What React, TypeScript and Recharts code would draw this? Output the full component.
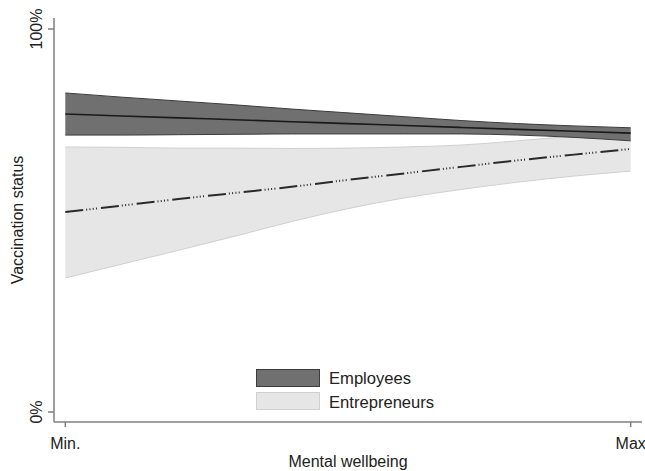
import React from "react";
import { ComposedChart, Area, Line, XAxis, YAxis, Legend } from "recharts";

// x position along Mental wellbeing (0 = Min., 1 = Max)
const tValues = [0, 0.1, 0.2, 0.3, 0.4, 0.5, 0.6, 0.7, 0.8, 0.9, 1];

// Employees: upper CI, predicted, lower CI
const empHigh = [0.833, 0.822, 0.812, 0.802, 0.791, 0.781, 0.771, 0.761, 0.753, 0.747, 0.742];
const empMean = [0.778, 0.773, 0.768, 0.763, 0.758, 0.753, 0.748, 0.743, 0.738, 0.733, 0.728];
const empLow = [0.723, 0.723, 0.724, 0.725, 0.726, 0.726, 0.726, 0.726, 0.723, 0.717, 0.708];

// Entrepreneurs: upper CI, predicted, lower CI
const entHigh = [0.692, 0.691, 0.689, 0.689, 0.688, 0.689, 0.692, 0.697, 0.708, 0.721, 0.736];
const entMean = [0.522, 0.539, 0.556, 0.572, 0.588, 0.606, 0.623, 0.640, 0.657, 0.672, 0.687];
const entLow = [0.350, 0.386, 0.422, 0.459, 0.497, 0.531, 0.559, 0.581, 0.600, 0.616, 0.629];

const xTicks = [0, 1];
const xTickLabels = ["Min.", "Max"];
const yTicks = [0, 1];
const yTickLabels = ["0%", "100%"];

const seriesNames = ["Employees", "Entrepreneurs"];
const xLabel = "Mental wellbeing";
const yLabel = "Vaccination status";

const data = tValues.map((t, i) => ({
  t,
  emp: [empLow[i], empHigh[i]],
  empMean: empMean[i],
  ent: [entLow[i], entHigh[i]],
  entMean: entMean[i],
}));

const FONT = '"Liberation Sans", Arial, sans-serif';
const AXIS = "#7f7f7f";
const TEXT = "#222";
const DARK_FILL = "#707070";
const DARK_EDGE = "#3c3c3c";
const LIGHT_FILL = "#e6e6e6";
const LIGHT_EDGE = "#d0d0d0";

const XTick = (props: any) => {
  const { x, y, payload } = props;
  const idx = xTicks.indexOf(payload.value);
  return (
    <text x={x} y={y + 22} textAnchor="middle" fontFamily={FONT} fontSize={16} fill={TEXT}>
      {xTickLabels[idx]}
    </text>
  );
};

const YTick = (props: any) => {
  const { x, y, payload } = props;
  const idx = yTicks.indexOf(payload.value);
  const bx = x - 6;
  return (
    <text
      x={bx}
      y={y}
      transform={`rotate(-90, ${bx}, ${y})`}
      textAnchor="middle"
      fontFamily={FONT}
      fontSize={16}
      fill={TEXT}
    >
      {yTickLabels[idx]}
    </text>
  );
};

const LegendContent = () => (
  <svg width={200} height={42} style={{ display: "block" }}>
    <rect x={0.5} y={0.5} width={63} height={17} fill={DARK_FILL} stroke={DARK_EDGE} strokeWidth={1} />
    <text x={73} y={14.5} fontFamily={FONT} fontSize={16.6} fill={TEXT}>
      {seriesNames[0]}
    </text>
    <rect x={0.5} y={23.5} width={63} height={17} fill={LIGHT_FILL} stroke={LIGHT_EDGE} strokeWidth={1} />
    <text x={73} y={38.5} fontFamily={FONT} fontSize={16.6} fill={TEXT}>
      {seriesNames[1]}
    </text>
  </svg>
);

export default function App() {
  return (
    <div style={{ position: "absolute", left: 0, top: 0, width: 645, height: 471, background: "#fff" }}>
      <ComposedChart
        width={645}
        height={471}
        data={data}
        margin={{ top: 18, right: 3, bottom: 0, left: 0 }}
      >
        <XAxis
          dataKey="t"
          type="number"
          domain={[-0.02, 1.02]}
          ticks={xTicks}
          allowDataOverflow
          height={49}
          tickSize={5}
          tickMargin={0}
          tick={<XTick />}
          axisLine={{ stroke: AXIS, strokeWidth: 1.5 }}
          tickLine={{ stroke: AXIS, strokeWidth: 1.5 }}
          label={{
            content: (p: any) => {
              const vb = p.viewBox || { x: 54, width: 588 };
              return (
                <text
                  x={vb.x + vb.width / 2}
                  y={467}
                  textAnchor="middle"
                  fontFamily={FONT}
                  fontSize={16}
                  fill={TEXT}
                >
                  {xLabel}
                </text>
              );
            },
          }}
        />
        <YAxis
          type="number"
          domain={[-0.0261, 1.0287]}
          ticks={yTicks}
          allowDataOverflow
          width={54}
          tickSize={6}
          tickMargin={0}
          tick={<YTick />}
          axisLine={{ stroke: AXIS, strokeWidth: 1.5 }}
          tickLine={{ stroke: AXIS, strokeWidth: 1.5 }}
          label={{
            content: (p: any) => {
              const vb = p.viewBox || { y: 18, height: 404 };
              const cy = vb.y + vb.height / 2;
              return (
                <text
                  x={23}
                  y={cy}
                  transform={`rotate(-90, 23, ${cy})`}
                  textAnchor="middle"
                  fontFamily={FONT}
                  fontSize={16}
                  fill={TEXT}
                >
                  {yLabel}
                </text>
              );
            },
          }}
        />
        <Area
          type="monotone"
          dataKey="ent"
          fill={LIGHT_FILL}
          fillOpacity={1}
          stroke={LIGHT_EDGE}
          strokeWidth={1}
          isAnimationActive={false}
          dot={false}
          activeDot={false}
        />
        <Area
          type="monotone"
          dataKey="emp"
          fill={DARK_FILL}
          fillOpacity={1}
          stroke={DARK_EDGE}
          strokeWidth={1}
          isAnimationActive={false}
          dot={false}
          activeDot={false}
        />
        <Line
          type="monotone"
          dataKey="entMean"
          stroke="#2a2a2a"
          strokeWidth={2}
          strokeDasharray="18 3 1 2.3 1 2.3 1 2.3 1 4"
          dot={false}
          activeDot={false}
          isAnimationActive={false}
        />
        <Line
          type="monotone"
          dataKey="empMean"
          stroke="#1a1a1a"
          strokeWidth={1.6}
          dot={false}
          activeDot={false}
          isAnimationActive={false}
        />
        <Legend
          layout="vertical"
          align="center"
          verticalAlign="middle"
          wrapperStyle={{ left: 256, top: 369, width: 200, height: 42 }}
          content={<LegendContent />}
        />
      </ComposedChart>
    </div>
  );
}
